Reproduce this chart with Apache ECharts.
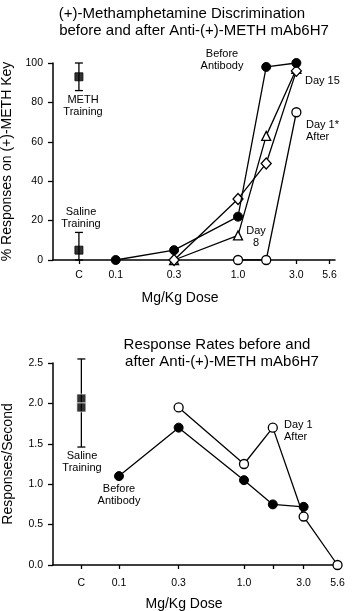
<!DOCTYPE html>
<html>
<head>
<meta charset="utf-8">
<script src="https://cdn.jsdelivr.net/npm/echarts@6/dist/echarts.min.js"></script>
<style>
  html, body { margin: 0; padding: 0; background: #fff; }
  #chart { width: 352px; height: 611px; }
</style>
</head>
<body>
<div id="chart"></div>
<script>
// doses in mg/kg; "C" (training control) sits left of 0.1 on the log axis
var controlDose = 0.05;
var tickDoses = [0.05, 0.1, 0.3, 1.0, 1.7, 3.0, 5.6];
var labelDoses = [0.05, 0.1, 0.3, 1.0, 3.0, 5.6];
var labelText = ["C", "0.1", "0.3", "1.0", "3.0", "5.6"];

// top panel: % responses on METH key
var discBeforeDose = [0.1, 0.3, 1.0, 1.7, 3.0];
var discBefore = [0, 5, 22, 98, 100];
var discDay1Dose = [1.0, 1.7, 3.0];
var discDay1 = [0, 0, 75];
var discDay8Dose = [0.3, 1.0, 1.7, 3.0];
var discDay8 = [0, 12.5, 63, 97];
var discDay15Dose = [0.3, 1.0, 1.7, 3.0];
var discDay15 = [0, 31, 49, 96];
// METH training, saline training
var trainMean = [93, 5];
var trainLow = [86, 0];
var trainHigh = [100, 14];

// bottom panel: responses / second
var rateBeforeDose = [0.1, 0.3, 1.0, 1.7, 3.0];
var rateBefore = [1.1, 1.7, 1.05, 0.75, 0.72];
var rateDay1Dose = [0.3, 1.0, 1.7, 3.0, 5.6];
var rateDay1 = [1.95, 1.25, 1.7, 0.6, 0];
var salineRate = [2.06, 1.95];
var salineRateLow = 1.46;
var salineRateHigh = 2.55;

var FONT = "Liberation Sans, Arial, Helvetica, sans-serif";
var lg = Math.log10;

function pairs(doses, vals) {
  var arr = [];
  for (var i = 0; i < doses.length; i++) arr.push([lg(doses[i]), vals[i]]);
  return arr;
}

function doseLabel(v) {
  for (var i = 0; i < labelDoses.length; i++) {
    if (Math.abs(lg(labelDoses[i]) - v) < 1e-6) return labelText[i];
  }
  return "";
}

function errorBar(params, api) {
  var x = api.value(0);
  var top = api.coord([x, api.value(2)]);
  var bot = api.coord([x, api.value(1)]);
  var st = { stroke: "#000", lineWidth: 1.3 };
  return {
    type: "group",
    children: [
      { type: "line", shape: { x1: top[0], y1: top[1], x2: bot[0], y2: bot[1] }, style: st },
      { type: "line", shape: { x1: top[0] - 4, y1: top[1], x2: top[0] + 4, y2: top[1] }, style: st },
      { type: "line", shape: { x1: bot[0] - 4, y1: bot[1], x2: bot[0] + 4, y2: bot[1] }, style: st }
    ]
  };
}

function xAxisOpt(idx, min, max, labelMargin, nameGap, namePad) {
  return {
    gridIndex: idx,
    type: "value",
    min: min,
    max: max,
    name: "Mg/Kg Dose",
    nameLocation: "middle",
    nameGap: nameGap,
    nameTextStyle: { fontSize: 14, fontFamily: FONT, color: "#000", padding: namePad },
    axisLine: { onZero: false, lineStyle: { color: "#000", width: 1.5 } },
    axisTick: { show: true, length: 4, lineStyle: { color: "#000", width: 1.3 },
      customValues: tickDoses.map(lg) },
    axisLabel: { fontSize: 10.5, fontFamily: FONT, color: "#000", margin: labelMargin,
      customValues: labelDoses.map(lg), formatter: doseLabel },
    splitLine: { show: false }
  };
}

function yAxisOpt(idx, max, interval, name, fmt) {
  return {
    gridIndex: idx,
    type: "value",
    min: 0,
    max: max,
    interval: interval,
    name: name,
    nameLocation: "middle",
    nameGap: 38,
    nameTextStyle: { fontSize: 14, fontFamily: FONT, color: "#000" },
    axisLine: { show: true, onZero: false, lineStyle: { color: "#000", width: 1.5 } },
    axisTick: { show: true, length: 5, lineStyle: { color: "#000", width: 1.3 } },
    axisLabel: { fontSize: 10.5, fontFamily: FONT, color: "#000", margin: 10, formatter: fmt },
    splitLine: { show: false }
  };
}

var filled = { color: "#000", borderColor: "#000", borderWidth: 1 };
var open = { color: "#fff", borderColor: "#000", borderWidth: 1.3 };
var lineSt = { color: "#000", width: 1.3 };

function lineSeries(idx, data, symbol, size, itemStyle, z) {
  return {
    type: "line",
    xAxisIndex: idx,
    yAxisIndex: idx,
    data: data,
    symbol: symbol,
    symbolSize: size,
    showAllSymbol: true,
    itemStyle: itemStyle,
    lineStyle: lineSt,
    z: z,
    silent: true,
    animation: false
  };
}

function txt(x, y, text, align) {
  return {
    type: "text",
    x: x,
    y: y,
    style: {
      text: text,
      fill: "#000",
      fontSize: 11,
      fontFamily: FONT,
      lineHeight: 12.5,
      align: align || "center",
      textAlign: align || "center",
      verticalAlign: "middle",
      textVerticalAlign: "middle"
    }
  };
}

function title(x, y, text) {
  var t = txt(x, y, text, "center");
  t.style.fontSize = 15;
  return t;
}

var chart = echarts.init(document.getElementById("chart"));
chart.setOption({
  animation: false,
  grid: [
    { left: 53, right: 17, top: 63, bottom: 351, containLabel: false, outerBoundsMode: "none" },
    { left: 53, right: 11, top: 363, bottom: 46, containLabel: false, outerBoundsMode: "none" }
  ],
  xAxis: [
    xAxisOpt(0, -1.513, 0.793, 10, 31, [0, 28, 0, 0]),
    xAxisOpt(1, -1.528, 0.776, 13, 32, [0, 26, 0, 0])
  ],
  yAxis: [
    yAxisOpt(0, 100, 20, "% Responses on (+)-METH Key", function (v) { return String(v); }),
    yAxisOpt(1, 2.5, 0.5, "Responses/Second", function (v) { return v.toFixed(1); })
  ],
  series: [
    {
      type: "custom", xAxisIndex: 0, yAxisIndex: 0, renderItem: errorBar, z: 2, silent: true,
      data: [[lg(controlDose), trainLow[0], trainHigh[0]], [lg(controlDose), trainLow[1], trainHigh[1]]]
    },
    {
      type: "scatter", xAxisIndex: 0, yAxisIndex: 0, symbol: "rect", symbolSize: 8, z: 3,
      itemStyle: filled, silent: true,
      data: [[lg(controlDose), trainMean[0]], [lg(controlDose), trainMean[1]]]
    },
    lineSeries(0, pairs(discDay1Dose, discDay1), "circle", 9, open, 3),
    lineSeries(0, pairs(discDay8Dose, discDay8), "triangle", 9, open, 4),
    lineSeries(0, pairs(discDay15Dose, discDay15), "diamond", [10, 11], open, 5),
    lineSeries(0, pairs(discBeforeDose, discBefore), "circle", 9, filled, 6),
    {
      type: "custom", xAxisIndex: 1, yAxisIndex: 1, renderItem: errorBar, z: 2, silent: true,
      data: [[lg(controlDose), salineRateLow, salineRateHigh]]
    },
    {
      type: "scatter", xAxisIndex: 1, yAxisIndex: 1, symbol: "rect", symbolSize: 9, z: 3,
      itemStyle: { color: "#000", borderColor: "#fff", borderWidth: 0.8 }, silent: true,
      data: salineRate.map(function (v) { return [lg(controlDose), v]; })
    },
    lineSeries(1, pairs(rateBeforeDose, rateBefore), "circle", 9, filled, 4),
    lineSeries(1, pairs(rateDay1Dose, rateDay1), "circle", 9, open, 5)
  ],
  graphic: [
    title(182, 14, "(+)-Methamphetamine Discrimination"),
    title(194, 31, "before and after Anti-(+)-METH mAb6H7"),
    title(217, 345, "Response Rates before and"),
    title(222, 362, "after Anti-(+)-METH mAb6H7"),
    txt(222, 60, "Before\nAntibody"),
    txt(305, 81, "Day 15", "left"),
    txt(306, 131, "Day 1*\nAfter", "left"),
    txt(256, 237, "Day\n8"),
    txt(83, 106, "METH\nTraining"),
    txt(81, 218, "Saline\nTraining"),
    txt(82, 462, "Saline\nTraining"),
    txt(119, 495, "Before\nAntibody"),
    txt(284, 431, "Day 1\nAfter", "left")
  ]
});
</script>
</body>
</html>
